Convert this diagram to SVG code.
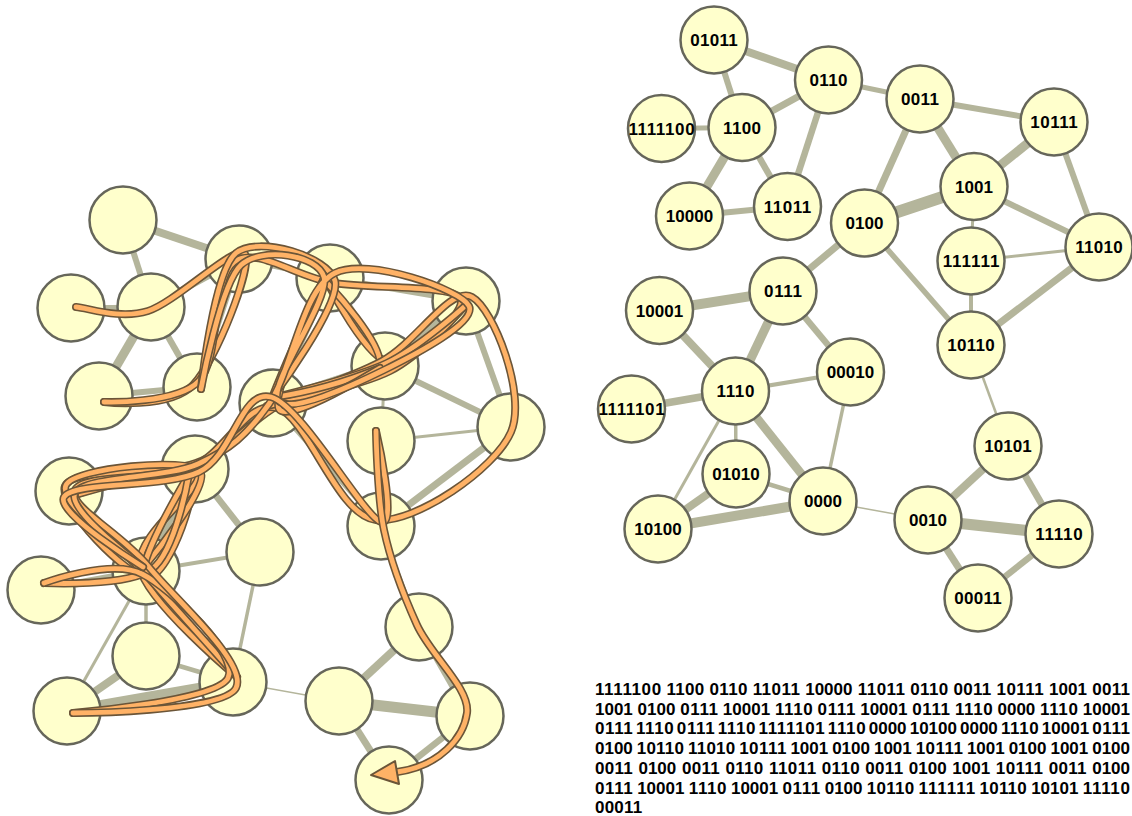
<svg xmlns="http://www.w3.org/2000/svg" xmlns:xlink="http://www.w3.org/1999/xlink" width="1132" height="816" viewBox="0 0 1132 816">
  <style>
    .edge { stroke: #b4b59b; stroke-linecap: butt; }
    .node circle { fill: #ffffcc; stroke: #66665a; stroke-width: 2.5; }
    .label { font-family: "Liberation Sans", Arial, Helvetica, sans-serif; font-weight: bold; font-size: 17px; text-anchor: middle; fill: #000; }
    .halo { fill: none; stroke: #6b5538; stroke-width: 8; stroke-linecap: round; stroke-linejoin: round; }
    .core { fill: none; stroke: #ffb266; stroke-width: 4.8; stroke-linecap: round; stroke-linejoin: round; }
    .tip { fill: #ffb266; stroke: #6b5538; stroke-width: 2; stroke-linejoin: round; }
    .seq { font-family: "Liberation Sans", Arial, Helvetica, sans-serif; font-weight: bold; font-size: 17px; fill: #000; }
  </style>
  <defs>
    <!-- walk pieces, split at the turning points -->
    <path id="wa" d="M76,307 C88,307.7 119.8,319.8 148,311 C176.2,302.2 237.5,241.7 245,254 C252.5,266.3 216.5,360.3 193,385 C169.5,409.7 104,402 104,402"/>
    <path id="wb" d="M104,402 C104,402 177.3,404.3 199,381 C220.7,357.7 211.7,278.3 234,262 C256.3,245.7 295.3,277 333,283 C370.7,289 450.7,284.8 460,298 C469.3,311.2 411,364.3 389,362 C367,359.7 328,284 328,284"/>
    <path id="wc" d="M328,284 C328,284 387.2,346.8 379,367 C370.8,387.2 309.5,389 279,405 C248.5,421 231.7,449.5 196,463 C160.3,476.5 72.8,467 65,486 C57.2,505 128.2,579.8 149,577 C169.8,574.2 202.3,482.7 190,469 C177.7,455.3 75,495 75,495"/>
    <path id="wd" d="M75,495 C75,495 186.2,461.8 197,474 C207.8,486.2 133.3,534.2 140,568 C146.7,601.8 237,677 237,677"/>
    <path id="we" d="M237,677 C237,677 175.5,608 147,576 C118.5,544 57.2,502.5 66,485 C74.8,467.5 187,457.3 200,471 C213,484.7 144,567 144,567"/>
    <path id="wf" d="M144,567 C150,540 180,490 189,474"/>
    <path id="wg" d="M189,474 C189,474 176.2,550.8 152,569 C127.8,587.2 44,583 44,583"/>
    <path id="wh" d="M44,583 C44,583 111.3,558.2 142,574 C172.7,589.8 239.5,654.8 228,678 C216.5,701.2 73,713 73,713"/>
    <path id="wi" d="M73,713 C73,713 223.5,712.5 236,688 C248.5,663.5 174.8,599 148,566 C121.2,533 67.7,506.5 75,490 C82.3,473.5 158.3,480.7 192,467 C225.7,453.3 246.3,399.2 277,408 C307.7,416.8 337,516 376,520 C415,524 495,469.2 511,432 C527,394.8 493.5,308.8 472,297 C450.5,285.2 416.2,342.8 382,361 C347.8,379.2 267,406 267,406"/>
    <path id="wj" d="M267,406 C267,406 357.2,387.5 390,371 C422.8,354.5 464,307 464,307"/>
    <path id="wk" d="M464,307 C464,307 418.3,348 387,363 C355.7,378 276,397 276,397"/>
    <path id="wl" d="M276,397 C310,392 350,380 380,368"/>
    <path id="wm" d="M380,368 C380,368 288,424.7 279,409 C270,393.3 326,274 326,274"/>
    <path id="wn" d="M326,274 C305,320 285,365 272,398"/>
    <path id="wo" d="M272,398 C272,398 341,305.2 335,281 C329,256.8 258.3,235 236,253 C213.7,271 201,389 201,389"/>
    <path id="wp" d="M201,389 C201,389 220.5,283.7 241,265 C261.5,246.3 317.8,254.5 324,277 C330.2,299.5 268,384.5 278,400 C288,415.5 352.2,385.7 384,370 C415.8,354.3 477.2,322.2 469,306 C460.8,289.8 368.3,256.7 335,273 C301.7,289.3 291.8,372.2 269,404 C246.2,435.8 230.3,449.2 198,464 C165.7,478.8 84.2,475.8 75,493 C65.8,510.2 143,567 143,567"/>
    <path id="wq" d="M143,567 C143,567 54.7,512.8 64,497 C73.3,481.2 164.5,488.7 199,472 C233.5,455.3 240.7,388.7 271,397 C301.3,405.3 363.5,516.3 381,522 C398.5,527.7 376,431 376,431"/>
    <path id="wr" d="M376,431 C376,431 377.2,497.7 384,530 C390.8,562.3 403.2,594.5 417,625 C430.8,655.5 470.3,688.5 467,713 C463.7,737.5 440,766 397,772"/>
  </defs>

  <rect width="1132" height="816" fill="#ffffff"/>

  <!-- left layout: links -->
  <g id="edges-left" class="edge">
    <line x1="123" y1="220" x2="239" y2="259" stroke-width="8"/>
    <line x1="123" y1="220" x2="151" y2="307" stroke-width="6"/>
    <line x1="71" y1="308" x2="151" y2="307" stroke-width="5"/>
    <line x1="151" y1="307" x2="239" y2="259" stroke-width="7"/>
    <line x1="151" y1="307" x2="99" y2="396" stroke-width="9"/>
    <line x1="151" y1="307" x2="197" y2="387" stroke-width="6.5"/>
    <line x1="99" y1="396" x2="197" y2="387" stroke-width="6"/>
    <line x1="239" y1="259" x2="197" y2="387" stroke-width="6.5"/>
    <line x1="239" y1="259" x2="330" y2="278" stroke-width="5"/>
    <line x1="330" y1="278" x2="466" y2="301" stroke-width="6"/>
    <line x1="330" y1="278" x2="385" y2="366" stroke-width="9"/>
    <line x1="330" y1="278" x2="273" y2="403" stroke-width="7"/>
    <line x1="385" y1="366" x2="466" y2="301" stroke-width="9"/>
    <line x1="385" y1="366" x2="273" y2="403" stroke-width="12"/>
    <line x1="385" y1="366" x2="511" y2="427" stroke-width="6"/>
    <line x1="385" y1="366" x2="381" y2="441" stroke-width="3"/>
    <line x1="381" y1="441" x2="511" y2="427" stroke-width="3"/>
    <line x1="381" y1="441" x2="381" y2="526" stroke-width="4"/>
    <line x1="466" y1="301" x2="511" y2="427" stroke-width="6"/>
    <line x1="511" y1="427" x2="381" y2="526" stroke-width="7"/>
    <line x1="273" y1="403" x2="381" y2="526" stroke-width="5.5"/>
    <line x1="273" y1="403" x2="195" y2="469" stroke-width="7"/>
    <line x1="381" y1="526" x2="419" y2="627" stroke-width="2.5"/>
    <line x1="195" y1="469" x2="69" y2="491" stroke-width="10"/>
    <line x1="195" y1="469" x2="146" y2="571" stroke-width="9"/>
    <line x1="195" y1="469" x2="260" y2="552" stroke-width="6.5"/>
    <line x1="69" y1="491" x2="146" y2="571" stroke-width="8"/>
    <line x1="146" y1="571" x2="41" y2="590" stroke-width="7.5"/>
    <line x1="146" y1="571" x2="260" y2="552" stroke-width="4"/>
    <line x1="146" y1="571" x2="146" y2="656" stroke-width="3.5"/>
    <line x1="146" y1="571" x2="67" y2="711" stroke-width="3"/>
    <line x1="146" y1="571" x2="233" y2="682" stroke-width="8.5"/>
    <line x1="260" y1="552" x2="233" y2="682" stroke-width="3.5"/>
    <line x1="146" y1="656" x2="67" y2="711" stroke-width="8"/>
    <line x1="146" y1="656" x2="233" y2="682" stroke-width="4.5"/>
    <line x1="67" y1="711" x2="233" y2="682" stroke-width="10"/>
    <line x1="233" y1="682" x2="339" y2="701" stroke-width="1.5"/>
    <line x1="339" y1="701" x2="419" y2="627" stroke-width="8"/>
    <line x1="339" y1="701" x2="470" y2="716" stroke-width="11"/>
    <line x1="339" y1="701" x2="389" y2="780" stroke-width="7"/>
    <line x1="419" y1="627" x2="470" y2="716" stroke-width="7"/>
    <line x1="470" y1="716" x2="389" y2="780" stroke-width="6.5"/>
  </g>

  <!-- left layout: nodes (unlabelled) -->
  <g id="left-01011" class="node"><circle cx="123" cy="220" r="33.5"/></g>
  <g id="left-0110" class="node"><circle cx="239" cy="259" r="33.5"/></g>
  <g id="left-1111100" class="node"><circle cx="71" cy="308" r="33.5"/></g>
  <g id="left-1100" class="node"><circle cx="151" cy="307" r="33.5"/></g>
  <g id="left-0011" class="node"><circle cx="330" cy="278" r="33.5"/></g>
  <g id="left-10111" class="node"><circle cx="466" cy="301" r="33.5"/></g>
  <g id="left-10000" class="node"><circle cx="99" cy="396" r="33.5"/></g>
  <g id="left-11011" class="node"><circle cx="197" cy="387" r="33.5"/></g>
  <g id="left-1001" class="node"><circle cx="385" cy="366" r="33.5"/></g>
  <g id="left-0100" class="node"><circle cx="273" cy="403" r="33.5"/></g>
  <g id="left-111111" class="node"><circle cx="381" cy="441" r="33.5"/></g>
  <g id="left-11010" class="node"><circle cx="511" cy="427" r="33.5"/></g>
  <g id="left-10001" class="node"><circle cx="69" cy="491" r="33.5"/></g>
  <g id="left-0111" class="node"><circle cx="195" cy="469" r="33.5"/></g>
  <g id="left-10110" class="node"><circle cx="381" cy="526" r="33.5"/></g>
  <g id="left-00010" class="node"><circle cx="260" cy="552" r="33.5"/></g>
  <g id="left-1111101" class="node"><circle cx="41" cy="590" r="33.5"/></g>
  <g id="left-1110" class="node"><circle cx="146" cy="571" r="33.5"/></g>
  <g id="left-10101" class="node"><circle cx="419" cy="627" r="33.5"/></g>
  <g id="left-01010" class="node"><circle cx="146" cy="656" r="33.5"/></g>
  <g id="left-10100" class="node"><circle cx="67" cy="711" r="33.5"/></g>
  <g id="left-0000" class="node"><circle cx="233" cy="682" r="33.5"/></g>
  <g id="left-0010" class="node"><circle cx="339" cy="701" r="33.5"/></g>
  <g id="left-11110" class="node"><circle cx="470" cy="716" r="33.5"/></g>
  <g id="left-00011" class="node"><circle cx="389" cy="780" r="33.5"/></g>

  <!-- the walk drawn over the left layout -->
  <g id="walk">
    <use xlink:href="#wa" class="halo"/><use xlink:href="#wa" class="core"/>
    <use xlink:href="#wb" class="halo"/><use xlink:href="#wb" class="core"/>
    <use xlink:href="#wc" class="halo"/><use xlink:href="#wc" class="core"/>
    <use xlink:href="#wd" class="halo"/><use xlink:href="#wd" class="core"/>
    <use xlink:href="#we" class="halo"/><use xlink:href="#we" class="core"/>
    <use xlink:href="#wf" class="halo"/><use xlink:href="#wf" class="core"/>
    <use xlink:href="#wg" class="halo"/><use xlink:href="#wg" class="core"/>
    <use xlink:href="#wh" class="halo"/><use xlink:href="#wh" class="core"/>
    <use xlink:href="#wi" class="halo"/><use xlink:href="#wi" class="core"/>
    <use xlink:href="#wj" class="halo"/><use xlink:href="#wj" class="core"/>
    <use xlink:href="#wk" class="halo"/><use xlink:href="#wk" class="core"/>
    <use xlink:href="#wl" class="halo"/><use xlink:href="#wl" class="core"/>
    <use xlink:href="#wm" class="halo"/><use xlink:href="#wm" class="core"/>
    <use xlink:href="#wn" class="halo"/><use xlink:href="#wn" class="core"/>
    <use xlink:href="#wo" class="halo"/><use xlink:href="#wo" class="core"/>
    <use xlink:href="#wp" class="halo"/><use xlink:href="#wp" class="core"/>
    <use xlink:href="#wq" class="halo"/><use xlink:href="#wq" class="core"/>
    <use xlink:href="#wr" class="halo"/><use xlink:href="#wr" class="core"/>
    <polygon class="tip" points="371,775 395,761 399,784"/>
  </g>

  <!-- right layout: links -->
  <g id="edges-right" class="edge">
    <line x1="714" y1="40" x2="828.5" y2="80" stroke-width="8"/>
    <line x1="714" y1="40" x2="742" y2="127.5" stroke-width="6"/>
    <line x1="661.5" y1="128.5" x2="742" y2="127.5" stroke-width="5"/>
    <line x1="742" y1="127.5" x2="828.5" y2="80" stroke-width="7"/>
    <line x1="742" y1="127.5" x2="689.5" y2="216" stroke-width="9"/>
    <line x1="742" y1="127.5" x2="787.5" y2="206.5" stroke-width="6.5"/>
    <line x1="689.5" y1="216" x2="787.5" y2="206.5" stroke-width="6"/>
    <line x1="828.5" y1="80" x2="787.5" y2="206.5" stroke-width="6.5"/>
    <line x1="828.5" y1="80" x2="920" y2="99" stroke-width="5"/>
    <line x1="920" y1="99" x2="1054" y2="122" stroke-width="6"/>
    <line x1="920" y1="99" x2="974" y2="186.5" stroke-width="9"/>
    <line x1="920" y1="99" x2="864.5" y2="223" stroke-width="7"/>
    <line x1="974" y1="186.5" x2="1054" y2="122" stroke-width="9"/>
    <line x1="974" y1="186.5" x2="864.5" y2="223" stroke-width="12"/>
    <line x1="974" y1="186.5" x2="1099" y2="247" stroke-width="6"/>
    <line x1="974" y1="186.5" x2="971" y2="261" stroke-width="3"/>
    <line x1="971" y1="261" x2="1099" y2="247" stroke-width="3"/>
    <line x1="971" y1="261" x2="971" y2="345" stroke-width="4"/>
    <line x1="1054" y1="122" x2="1099" y2="247" stroke-width="6"/>
    <line x1="1099" y1="247" x2="971" y2="345" stroke-width="7"/>
    <line x1="864.5" y1="223" x2="971" y2="345" stroke-width="5.5"/>
    <line x1="864.5" y1="223" x2="783" y2="291" stroke-width="7"/>
    <line x1="971" y1="345" x2="1008" y2="446" stroke-width="2.5"/>
    <line x1="783" y1="291" x2="659.5" y2="310.5" stroke-width="10"/>
    <line x1="783" y1="291" x2="735.5" y2="391" stroke-width="9"/>
    <line x1="783" y1="291" x2="850.5" y2="372" stroke-width="6.5"/>
    <line x1="659.5" y1="310.5" x2="735.5" y2="391" stroke-width="8"/>
    <line x1="735.5" y1="391" x2="631.5" y2="409" stroke-width="7.5"/>
    <line x1="735.5" y1="391" x2="850.5" y2="372" stroke-width="4"/>
    <line x1="735.5" y1="391" x2="736" y2="474" stroke-width="3.5"/>
    <line x1="735.5" y1="391" x2="658" y2="529" stroke-width="3"/>
    <line x1="735.5" y1="391" x2="823" y2="501" stroke-width="8.5"/>
    <line x1="850.5" y1="372" x2="823" y2="501" stroke-width="3.5"/>
    <line x1="736" y1="474" x2="658" y2="529" stroke-width="8"/>
    <line x1="736" y1="474" x2="823" y2="501" stroke-width="4.5"/>
    <line x1="658" y1="529" x2="823" y2="501" stroke-width="10"/>
    <line x1="823" y1="501" x2="928" y2="520" stroke-width="1.5"/>
    <line x1="928" y1="520" x2="1008" y2="446" stroke-width="8"/>
    <line x1="928" y1="520" x2="1059" y2="534" stroke-width="11"/>
    <line x1="928" y1="520" x2="978" y2="598" stroke-width="7"/>
    <line x1="1008" y1="446" x2="1059" y2="534" stroke-width="7"/>
    <line x1="1059" y1="534" x2="978" y2="598" stroke-width="6.5"/>
  </g>

  <!-- right layout: labelled nodes -->
  <g id="n01011" class="node"><circle cx="714" cy="40" r="33.5"/><text class="label" x="714" y="46" textLength="47.3" lengthAdjust="spacing">01011</text></g>
  <g id="n0110" class="node"><circle cx="828.5" cy="80" r="33.5"/><text class="label" x="828.5" y="86" textLength="37.8" lengthAdjust="spacing">0110</text></g>
  <g id="n1100" class="node"><circle cx="742" cy="127.5" r="33.5"/><text class="label" x="742" y="133.5" textLength="37.8" lengthAdjust="spacing">1100</text></g>
  <g id="n1111100" class="node"><circle cx="661.5" cy="128.5" r="33.5"/><text class="label" x="661.5" y="134.5" textLength="66.2" lengthAdjust="spacing">1111100</text></g>
  <g id="n10000" class="node"><circle cx="689.5" cy="216" r="33.5"/><text class="label" x="689.5" y="222" textLength="47.3" lengthAdjust="spacing">10000</text></g>
  <g id="n11011" class="node"><circle cx="787.5" cy="206.5" r="33.5"/><text class="label" x="787.5" y="212.5" textLength="47.3" lengthAdjust="spacing">11011</text></g>
  <g id="n0011" class="node"><circle cx="920" cy="99" r="33.5"/><text class="label" x="920" y="105" textLength="37.8" lengthAdjust="spacing">0011</text></g>
  <g id="n10111" class="node"><circle cx="1054" cy="122" r="33.5"/><text class="label" x="1054" y="128" textLength="47.3" lengthAdjust="spacing">10111</text></g>
  <g id="n1001" class="node"><circle cx="974" cy="186.5" r="33.5"/><text class="label" x="974" y="192.5" textLength="37.8" lengthAdjust="spacing">1001</text></g>
  <g id="n0100" class="node"><circle cx="864.5" cy="223" r="33.5"/><text class="label" x="864.5" y="229" textLength="37.8" lengthAdjust="spacing">0100</text></g>
  <g id="n111111" class="node"><circle cx="971" cy="261" r="33.5"/><text class="label" x="971" y="267" textLength="56.7" lengthAdjust="spacing">111111</text></g>
  <g id="n11010" class="node"><circle cx="1099" cy="247" r="33.5"/><text class="label" x="1099" y="253" textLength="47.3" lengthAdjust="spacing">11010</text></g>
  <g id="n10110" class="node"><circle cx="971" cy="345" r="33.5"/><text class="label" x="971" y="351" textLength="47.3" lengthAdjust="spacing">10110</text></g>
  <g id="n0111" class="node"><circle cx="783" cy="291" r="33.5"/><text class="label" x="783" y="297" textLength="37.8" lengthAdjust="spacing">0111</text></g>
  <g id="n10001" class="node"><circle cx="659.5" cy="310.5" r="33.5"/><text class="label" x="659.5" y="316.5" textLength="47.3" lengthAdjust="spacing">10001</text></g>
  <g id="n00010" class="node"><circle cx="850.5" cy="372" r="33.5"/><text class="label" x="850.5" y="378" textLength="47.3" lengthAdjust="spacing">00010</text></g>
  <g id="n1110" class="node"><circle cx="735.5" cy="391" r="33.5"/><text class="label" x="735.5" y="397" textLength="37.8" lengthAdjust="spacing">1110</text></g>
  <g id="n1111101" class="node"><circle cx="631.5" cy="409" r="33.5"/><text class="label" x="631.5" y="415" textLength="66.2" lengthAdjust="spacing">1111101</text></g>
  <g id="n01010" class="node"><circle cx="736" cy="474" r="33.5"/><text class="label" x="736" y="480" textLength="47.3" lengthAdjust="spacing">01010</text></g>
  <g id="n0000" class="node"><circle cx="823" cy="501" r="33.5"/><text class="label" x="823" y="507" textLength="37.8" lengthAdjust="spacing">0000</text></g>
  <g id="n10100" class="node"><circle cx="658" cy="529" r="33.5"/><text class="label" x="658" y="535" textLength="47.3" lengthAdjust="spacing">10100</text></g>
  <g id="n10101" class="node"><circle cx="1008" cy="446" r="33.5"/><text class="label" x="1008" y="452" textLength="47.3" lengthAdjust="spacing">10101</text></g>
  <g id="n0010" class="node"><circle cx="928" cy="520" r="33.5"/><text class="label" x="928" y="526" textLength="37.8" lengthAdjust="spacing">0010</text></g>
  <g id="n11110" class="node"><circle cx="1059" cy="534" r="33.5"/><text class="label" x="1059" y="540" textLength="47.3" lengthAdjust="spacing">11110</text></g>
  <g id="n00011" class="node"><circle cx="978" cy="598" r="33.5"/><text class="label" x="978" y="604" textLength="47.3" lengthAdjust="spacing">00011</text></g>

  <!-- the walk as a justified sequence of labels, one word per tspan -->
  <g id="sequence" class="seq">
    <text y="695"><tspan x="595" textLength="66.16" lengthAdjust="spacing">1111100</tspan> <tspan x="666.46" textLength="37.81" lengthAdjust="spacing">1100</tspan> <tspan x="709.56" textLength="37.81" lengthAdjust="spacing">0110</tspan> <tspan x="752.66" textLength="47.26" lengthAdjust="spacing">11011</tspan> <tspan x="805.22" textLength="47.26" lengthAdjust="spacing">10000</tspan> <tspan x="857.77" textLength="47.26" lengthAdjust="spacing">11011</tspan> <tspan x="910.33" textLength="37.81" lengthAdjust="spacing">0110</tspan> <tspan x="953.43" textLength="37.81" lengthAdjust="spacing">0011</tspan> <tspan x="996.53" textLength="47.26" lengthAdjust="spacing">10111</tspan> <tspan x="1049.09" textLength="37.81" lengthAdjust="spacing">1001</tspan> <tspan x="1092.19" textLength="37.81" lengthAdjust="spacing">0011</tspan></text>
    <text y="714.7"><tspan x="595" textLength="37.81" lengthAdjust="spacing">1001</tspan> <tspan x="637.62" textLength="37.81" lengthAdjust="spacing">0100</tspan> <tspan x="680.24" textLength="37.81" lengthAdjust="spacing">0111</tspan> <tspan x="722.87" textLength="47.26" lengthAdjust="spacing">10001</tspan> <tspan x="774.94" textLength="37.81" lengthAdjust="spacing">1110</tspan> <tspan x="817.56" textLength="37.81" lengthAdjust="spacing">0111</tspan> <tspan x="860.18" textLength="47.26" lengthAdjust="spacing">10001</tspan> <tspan x="912.26" textLength="37.81" lengthAdjust="spacing">0111</tspan> <tspan x="954.88" textLength="37.81" lengthAdjust="spacing">1110</tspan> <tspan x="997.5" textLength="37.81" lengthAdjust="spacing">0000</tspan> <tspan x="1040.12" textLength="37.81" lengthAdjust="spacing">1110</tspan> <tspan x="1082.75" textLength="47.26" lengthAdjust="spacing">10001</tspan></text>
    <text y="734.4"><tspan x="595" textLength="37.81" lengthAdjust="spacing">0111</tspan> <tspan x="635.9" textLength="37.81" lengthAdjust="spacing">1110</tspan> <tspan x="676.81" textLength="37.81" lengthAdjust="spacing">0111</tspan> <tspan x="717.71" textLength="37.81" lengthAdjust="spacing">1110</tspan> <tspan x="758.61" textLength="66.16" lengthAdjust="spacing">1111101</tspan> <tspan x="827.87" textLength="37.81" lengthAdjust="spacing">1110</tspan> <tspan x="868.77" textLength="37.81" lengthAdjust="spacing">0000</tspan> <tspan x="909.68" textLength="47.26" lengthAdjust="spacing">10100</tspan> <tspan x="960.03" textLength="37.81" lengthAdjust="spacing">0000</tspan> <tspan x="1000.94" textLength="37.81" lengthAdjust="spacing">1110</tspan> <tspan x="1041.84" textLength="47.26" lengthAdjust="spacing">10001</tspan> <tspan x="1092.19" textLength="37.81" lengthAdjust="spacing">0111</tspan></text>
    <text y="754.1"><tspan x="595" textLength="37.81" lengthAdjust="spacing">0100</tspan> <tspan x="636.76" textLength="47.26" lengthAdjust="spacing">10110</tspan> <tspan x="687.98" textLength="47.26" lengthAdjust="spacing">11010</tspan> <tspan x="739.19" textLength="47.26" lengthAdjust="spacing">10111</tspan> <tspan x="790.41" textLength="37.81" lengthAdjust="spacing">1001</tspan> <tspan x="832.17" textLength="37.81" lengthAdjust="spacing">0100</tspan> <tspan x="873.93" textLength="37.81" lengthAdjust="spacing">1001</tspan> <tspan x="915.69" textLength="47.26" lengthAdjust="spacing">10111</tspan> <tspan x="966.91" textLength="37.81" lengthAdjust="spacing">1001</tspan> <tspan x="1008.67" textLength="37.81" lengthAdjust="spacing">0100</tspan> <tspan x="1050.43" textLength="37.81" lengthAdjust="spacing">1001</tspan> <tspan x="1092.19" textLength="37.81" lengthAdjust="spacing">0100</tspan></text>
    <text y="773.8"><tspan x="595" textLength="37.81" lengthAdjust="spacing">0011</tspan> <tspan x="638.48" textLength="37.81" lengthAdjust="spacing">0100</tspan> <tspan x="681.96" textLength="37.81" lengthAdjust="spacing">0011</tspan> <tspan x="725.44" textLength="37.81" lengthAdjust="spacing">0110</tspan> <tspan x="768.92" textLength="47.26" lengthAdjust="spacing">11011</tspan> <tspan x="821.86" textLength="37.81" lengthAdjust="spacing">0110</tspan> <tspan x="865.34" textLength="37.81" lengthAdjust="spacing">0011</tspan> <tspan x="908.82" textLength="37.81" lengthAdjust="spacing">0100</tspan> <tspan x="952.3" textLength="37.81" lengthAdjust="spacing">1001</tspan> <tspan x="995.78" textLength="47.26" lengthAdjust="spacing">10111</tspan> <tspan x="1048.71" textLength="37.81" lengthAdjust="spacing">0011</tspan> <tspan x="1092.19" textLength="37.81" lengthAdjust="spacing">0100</tspan></text>
    <text y="793.5"><tspan x="595" textLength="37.81" lengthAdjust="spacing">0111</tspan> <tspan x="637.16" textLength="47.26" lengthAdjust="spacing">10001</tspan> <tspan x="688.77" textLength="37.81" lengthAdjust="spacing">1110</tspan> <tspan x="730.93" textLength="47.26" lengthAdjust="spacing">10001</tspan> <tspan x="782.54" textLength="37.81" lengthAdjust="spacing">0111</tspan> <tspan x="824.69" textLength="37.81" lengthAdjust="spacing">0100</tspan> <tspan x="866.85" textLength="47.26" lengthAdjust="spacing">10110</tspan> <tspan x="918.46" textLength="56.71" lengthAdjust="spacing">111111</tspan> <tspan x="979.52" textLength="47.26" lengthAdjust="spacing">10110</tspan> <tspan x="1031.13" textLength="47.26" lengthAdjust="spacing">10101</tspan> <tspan x="1082.74" textLength="47.26" lengthAdjust="spacing">11110</tspan></text>
    <text y="813.2"><tspan x="595" textLength="47.26" lengthAdjust="spacing">00011</tspan></text>
  </g>
</svg>
